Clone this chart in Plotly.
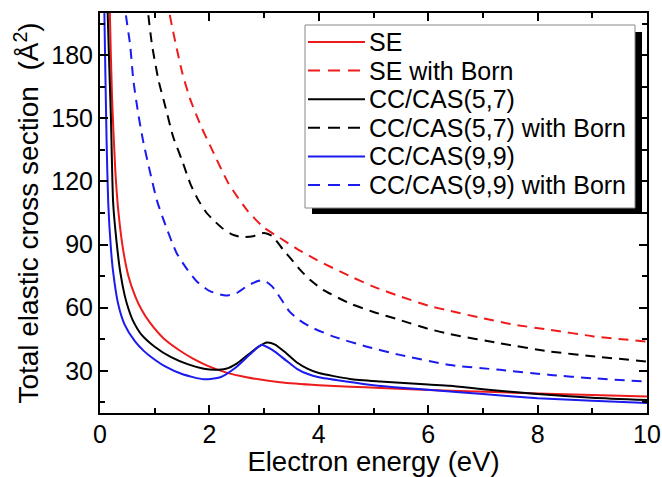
import plotly.graph_objects as go

# SE (static exchange)
se_x = [0.15, 0.18, 0.22, 0.28, 0.335, 0.42, 0.52, 0.65, 0.76, 0.91, 1.16, 1.45, 1.7, 1.97, 2.3, 2.68, 3.29, 4.0, 4.57, 5.12, 6.4, 8.0, 10.0]
se_y = [240, 200, 160, 125, 106, 88, 75, 65, 59, 53, 45.5, 39.8, 35.8, 32.4, 29.3, 27, 24.6, 23.2, 22.5, 21.9, 20.6, 19.3, 17.8]

# SE with Born
seb_x = [1.2, 1.27, 1.5, 1.65, 1.85, 2.05, 2.35, 2.7, 3.0, 3.3, 3.6, 3.96, 4.57, 5.0, 5.5, 6.0, 6.4, 7.0, 7.56, 8.23, 9.0, 10.0]
seb_y = [215, 200, 172, 159, 146, 135, 119, 106, 98, 93, 88, 82.7, 75, 70, 65.3, 61, 58.5, 55, 52, 49.5, 46.5, 43.9]

# CC/CAS(5,7)
cc57_x = [0.12, 0.14, 0.2, 0.24, 0.3, 0.37, 0.45, 0.52, 0.6, 0.75, 1.0, 1.3, 1.6, 1.9, 2.1, 2.3, 2.5, 2.7, 2.9, 3.05, 3.2, 3.4, 3.6, 3.8, 4.0, 4.57, 5.12, 6.0, 6.4, 7.0, 8.0, 9.0, 10.0]
cc57_y = [240, 200, 150, 110, 92, 77, 66, 59.5, 54, 47.5, 41.5, 36.5, 33.2, 31, 30.5, 31, 33.5, 37.5, 41.5, 43.5, 42.5, 38.5, 34, 31, 29, 26.2, 25, 23.5, 22.9, 21.3, 19, 17.3, 16.2]

# CC/CAS(5,7) with Born
cc57b_x = [0.84, 0.88, 0.95, 1.07, 1.2, 1.34, 1.5, 1.65, 1.8, 1.95, 2.1, 2.25, 2.4, 2.6, 2.8, 3.0, 3.15, 3.35, 3.5, 3.66, 3.85, 4.08, 4.57, 5.0, 5.48, 6.0, 6.4, 7.31, 8.23, 9.0, 10.0]
cc57b_y = [215, 200, 185, 168, 155, 141, 130, 119, 111, 105, 101, 97.5, 95, 93.5, 94, 95.5, 94, 87.5, 83, 78, 73, 68.5, 62, 58, 54.2, 50, 47.5, 43.1, 39.2, 37, 34.4]

# CC/CAS(9,9)
cc99_x = [0.06, 0.08, 0.12, 0.15, 0.2, 0.24, 0.33, 0.45, 0.64, 0.8, 0.94, 1.2, 1.5, 1.9, 2.2, 2.5, 2.75, 2.95, 3.15, 3.4, 3.6, 3.8, 4.0, 4.5, 5.0, 5.5, 6.0, 7.0, 8.0, 9.0, 10.0]
cc99_y = [240, 200, 140, 110, 88, 77, 62, 52, 44, 39.5, 36.5, 32, 28.5, 26, 27, 32, 38, 42.3, 40, 35, 31, 28.5, 27, 25, 23.2, 22, 21, 19, 17, 15.8, 14.7]

# CC/CAS(9,9) with Born
cc99b_x = [0.44, 0.47, 0.55, 0.61, 0.7, 0.79, 0.91, 1.04, 1.2, 1.4, 1.6, 1.77, 2.0, 2.3, 2.5, 2.7, 2.9, 3.0, 3.15, 3.3, 3.47, 3.65, 3.84, 4.27, 4.88, 5.48, 6.4, 7.31, 8.23, 9.0, 10.0]
cc99b_y = [215, 200, 185, 168, 152, 139, 125, 111, 99, 86, 78, 72.5, 68, 65.8, 67, 70.5, 72.8, 73, 70, 64.5, 58, 54, 51, 46.3, 41.5, 37.6, 32.8, 30.5, 28.1, 26.5, 24.9]

x_ticks = [0, 2, 4, 6, 8, 10]
y_ticks = [30, 60, 90, 120, 150, 180]

RED = "#ee1b1b"
BLUE = "#1b1bee"
BLACK = "#000000"
DASH = "10px,7px"

series = [
    ("SE", se_x, se_y, RED, "solid"),
    ("SE with Born", seb_x, seb_y, RED, DASH),
    ("CC/CAS(5,7)", cc57_x, cc57_y, BLACK, "solid"),
    ("CC/CAS(5,7) with Born", cc57b_x, cc57b_y, BLACK, DASH),
    ("CC/CAS(9,9)", cc99_x, cc99_y, BLUE, "solid"),
    ("CC/CAS(9,9) with Born", cc99b_x, cc99b_y, BLUE, DASH),
]

fig = go.Figure()
for name, x, y, c, d in series:
    fig.add_trace(go.Scatter(x=x, y=y, name=name, mode="lines", showlegend=False,
                             line=dict(color=c, width=2, dash=d, shape="spline", smoothing=0.6)))

FONT = "Liberation Sans, Arial, sans-serif"
axis_common = dict(
    showline=True, linecolor="black", linewidth=2, mirror="allticks",
    ticks="inside", ticklen=8, tickwidth=1.5, tickcolor="black",
    showgrid=False, zeroline=False, automargin=False, ticklabeloverflow="allow",
    tickfont=dict(family=FONT, size=25, color="black"),
)

# plot-area geometry in pixels (for placing the hand-built legend box)
L, R, T, B = 100, 647, 13, 413
W, H = R - L, B - T


def px(x):
    return (x - L) / W


def py(y):
    return (B - y) / H


fig.update_layout(
    template="none",
    width=662, height=477,
    margin=dict(l=L, r=662 - R, t=T, b=477 - B),
    paper_bgcolor="white", plot_bgcolor="white",
    font=dict(family=FONT, color="black"),
    showlegend=False,
)
fig.update_xaxes(range=[0, 10], tickvals=x_ticks, ticklabelstandoff=-2,
                 minor=dict(dtick=1, ticks="inside", ticklen=5, tickcolor="black"),
                 title=dict(text="Electron energy (eV)", font=dict(family=FONT, size=27.5), standoff=0),
                 **axis_common)
fig.update_yaxes(range=[10, 200], tickvals=y_ticks,
                 minor=dict(tickvals=[15, 45, 75, 105, 135, 165, 195], ticks="inside", ticklen=5, tickcolor="black"),
                 title=dict(text="Total elastic cross section  (Å<sup>2</sup>)", font=dict(family=FONT, size=28), standoff=4),
                 **axis_common)

# legend: drop shadow, box, sample lines and labels
fig.add_shape(type="rect", xref="paper", yref="paper", layer="above",
              x0=px(312), x1=px(642), y0=py(214), y1=py(32),
              fillcolor="black", line=dict(width=0))
fig.add_shape(type="rect", xref="paper", yref="paper", layer="above",
              x0=px(305), x1=px(635), y0=py(208), y1=py(25),
              fillcolor="white", line=dict(color="#888888", width=1))
row0, step = 42, 28.6
for i, (name, x, y, c, d) in enumerate(series):
    yc = row0 + i * step
    fig.add_shape(type="line", xref="paper", yref="paper", layer="above",
                  x0=px(308), x1=px(365), y0=py(yc), y1=py(yc),
                  line=dict(color=c, width=2, dash="solid" if d == "solid" else "12px,8px"))
    fig.add_annotation(xref="paper", yref="paper", x=px(367), y=py(yc),
                       xanchor="left", yanchor="middle", showarrow=False,
                       text=name, font=dict(family=FONT, size=25, color="black"))

fig.write_html("out.html")
